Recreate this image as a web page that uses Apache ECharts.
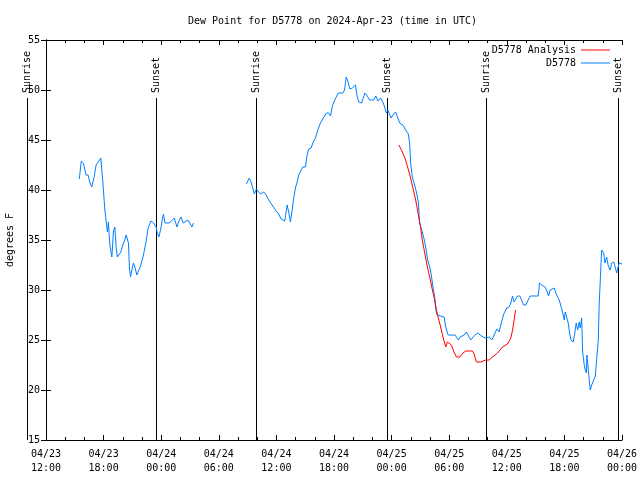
<!DOCTYPE html>
<html>
<head>
<meta charset="utf-8">
<script src="https://cdn.jsdelivr.net/npm/echarts@6/dist/echarts.min.js"></script>
<style>html,body{margin:0;padding:0;background:#fff}#c{width:640px;height:480px}</style>
</head>
<body>
<div id="c"></div>
<script>
// Hours since 2024-04-23 12:00 UTC
const obsHours = [3.47,3.68,3.89,4.17,4.38,4.56,4.77,5.01,5.22,5.71,5.92,6.13,6.29,6.40,6.50,6.65,6.86,7.02,7.17,7.30,7.44,7.62,7.80,8.00,8.21,8.35,8.48,8.59,8.69,8.80,8.90,9.11,9.29,9.46,9.63,9.88,10.15,10.40,10.64,10.93,11.20,11.48,11.58,11.76,11.97,12.14,12.24,12.39,12.84,13.36,13.49,13.64,13.81,14.06,14.30,14.50,14.79,15.03,15.20,15.37,
 18.0,
 20.87,21.18,21.36,21.53,21.71,21.91,22.09,22.33,22.68,22.93,23.20,23.55,23.90,24.24,24.49,24.87,25.01,25.12,25.28,25.46,25.64,25.81,25.98,26.16,26.33,26.58,26.75,27.03,27.20,27.37,27.62,27.83,28.07,28.31,28.59,28.94,29.22,29.46,29.64,29.81,29.98,30.23,30.44,30.92,31.10,31.27,31.44,31.65,31.90,32.07,32.24,32.42,32.59,32.87,33.05,33.22,33.47,33.71,34.15,34.36,34.57,34.85,35.14,35.27,35.45,35.62,35.93,36.14,36.42,36.84,37.18,37.46,37.74,37.88,37.98,38.16,38.40,38.61,38.79,38.92,39.20,39.41,39.55,39.76,39.97,40.10,40.31,40.49,40.59,40.73,40.87,41.46,41.64,41.88,42.61,42.96,43.13,43.55,43.80,44.07,44.24,44.49,44.66,44.94,45.22,45.53,45.81,46.16,46.44,46.68,46.96,47.20,47.45,47.72,48.00,48.24,48.42,48.60,48.76,48.94,49.12,49.36,49.54,49.74,49.98,50.22,50.43,51.27,51.41,51.62,51.79,51.97,52.14,52.35,52.52,52.94,53.11,53.29,53.46,53.64,53.81,53.98,54.09,54.26,54.40,54.54,54.68,54.92,55.10,55.23,55.38,55.55,55.65,55.80,55.90,56.07,56.17,56.28,56.35,56.49,56.69,56.84,57.05,57.22,57.42,57.53,57.63,57.74,57.88,58.09,58.23,58.40,58.55,58.75,58.93,59.14,59.30,59.45,59.56,59.72,59.90,60.00];
const obsDew = [41.1,42.9,42.7,41.5,41.5,40.8,40.3,41.3,42.5,43.2,40.8,38.0,36.7,35.8,36.8,34.5,33.3,35.8,36.3,34.3,33.3,33.5,33.8,34.5,35.0,35.5,35.7,34.7,32.2,31.3,31.8,32.7,32.2,31.5,31.7,32.5,33.5,34.7,36.2,36.9,36.7,36.3,35.7,35.3,36.2,37.2,37.6,36.7,36.7,37.2,37.2,36.3,36.8,37.3,36.7,36.7,37.0,36.6,36.3,36.7,
 null,
 40.6,41.2,40.8,40.2,39.6,40.1,39.9,39.6,39.8,39.5,39.0,38.5,38.0,37.6,37.1,36.9,36.8,38.5,37.8,36.8,38.0,39.2,40.2,40.8,41.5,42.0,42.3,42.3,43.5,44.1,44.2,44.8,45.2,46.0,46.7,47.3,47.7,47.7,47.4,48.3,48.8,49.3,49.7,49.7,50.0,51.3,50.9,50.1,50.2,50.3,50.5,49.3,48.8,48.7,49.2,49.7,49.4,49.0,49.0,49.4,48.9,49.2,48.7,48.3,47.7,48.0,47.2,47.5,47.8,46.7,46.5,46.0,45.6,44.7,42.7,41.3,40.5,39.7,38.7,36.7,35.8,35.0,34.3,33.0,32.3,31.7,30.3,29.3,28.2,27.5,27.3,27.3,26.3,25.5,25.5,25.0,25.3,25.5,25.8,25.3,25.0,25.3,25.3,25.7,25.5,25.3,25.2,25.3,25.0,25.5,26.1,25.8,26.8,27.7,28.2,28.3,28.7,29.4,28.8,29.0,29.4,29.4,29.0,28.5,28.5,29.0,29.4,29.4,30.7,30.5,30.7,30.3,30.0,29.4,30.0,30.2,29.7,29.3,29.0,28.4,27.8,27.0,27.8,28.0,26.7,25.7,25.0,24.8,25.8,26.7,26.0,26.8,26.2,27.2,23.8,22.5,22.0,21.7,23.5,22.0,20.0,20.5,21.0,21.4,21.5,25.0,28.7,31.0,34.0,33.7,32.7,33.3,32.5,32.0,32.7,32.8,32.7,31.7,32.2,32.7,32.8,32.6];

const anaHours = [36.76,37.12,37.39,37.70,37.98,38.22,38.51,38.79,39.03,39.20,39.45,39.73,39.97,40.25,40.49,40.67,40.87,41.11,41.35,41.64,41.81,41.98,42.23,42.50,42.75,43.10,43.44,43.72,44.42,44.59,44.84,45.29,45.81,46.16,46.51,47.03,47.55,48.07,48.42,48.60,48.76,48.91];
const anaDew = [44.5,43.8,43.2,42.2,41.2,40.2,39.0,37.5,36.2,35.0,33.7,32.3,31.3,30.0,29.0,28.0,27.2,26.3,25.3,24.3,24.8,25.0,24.5,23.8,23.3,23.3,23.7,23.9,23.9,23.6,22.8,22.8,23.0,23.0,23.3,23.7,24.3,24.6,25.2,26.0,27.0,28.0];

const eventNames = ['Sunrise','Sunset','Sunrise','Sunset','Sunrise','Sunset'];
const eventHours = [-2.01,11.51,21.91,35.48,45.86,59.55];

const xTickLabels = ['04/23\n12:00','04/23\n18:00','04/24\n00:00','04/24\n06:00','04/24\n12:00','04/24\n18:00','04/25\n00:00','04/25\n06:00','04/25\n12:00','04/25\n18:00','04/26\n00:00'];

const FONT = '"DejaVu Sans Mono", "Liberation Mono", monospace';
const chart = echarts.init(document.getElementById('c'), null, {renderer: 'canvas'});
const axisLineStyle = {show: true, lineStyle: {color: '#000', width: 1}};

chart.setOption({
  animation: false,
  backgroundColor: '#fff',
  title: {
    text: 'Dew Point for D5778 on 2024-Apr-23 (time in UTC)',
    left: 188, top: 16, padding: 0,
    textStyle: {fontFamily: FONT, fontSize: 10, fontWeight: 'normal', color: '#000'}
  },
  legend: {
    data: ['D5778 Analysis', 'D5778'],
    orient: 'vertical', align: 'right',
    right: 30, top: 45, padding: 0,
    icon: 'rect',
    itemWidth: 29, itemHeight: 1, itemGap: 3,
    textStyle: {fontFamily: FONT, fontSize: 10, color: '#000'}
  },
  grid: {left: 46, right: 18, top: 40, bottom: 40, outerBoundsMode: 'none', containLabel: false},
  xAxis: [{
    type: 'value', min: 0, max: 60, interval: 6, position: 'bottom',
    axisLine: axisLineStyle,
    axisTick: {show: true, inside: true, length: 5, lineStyle: {color: '#000'}},
    minorTick: {show: true, splitNumber: 3, length: 3, lineStyle: {color: '#000'}},
    splitLine: {show: false},
    axisLabel: {
      margin: 7, lineHeight: 14, fontFamily: FONT, fontSize: 10, color: '#000',
      formatter: v => xTickLabels[Math.round(v / 6)] || ''
    }
  }, {
    type: 'value', min: 0, max: 60, interval: 6, position: 'top',
    axisLine: axisLineStyle,
    axisTick: {show: true, inside: true, length: 5, lineStyle: {color: '#000'}},
    minorTick: {show: true, splitNumber: 3, length: 3, lineStyle: {color: '#000'}},
    splitLine: {show: false},
    axisLabel: {show: false}
  }],
  yAxis: [{
    type: 'value', min: 15, max: 55, interval: 5, position: 'left',
    name: 'degrees F', nameLocation: 'middle', nameGap: 31, nameRotate: 90,
    nameTextStyle: {fontFamily: FONT, fontSize: 10, color: '#000'},
    axisLine: axisLineStyle,
    axisTick: {show: true, inside: true, length: 5, lineStyle: {color: '#000'}},
    splitLine: {show: false},
    axisLabel: {margin: 6, fontFamily: FONT, fontSize: 10, color: '#000'}
  }, {
    type: 'value', min: 15, max: 55, interval: 5, position: 'right',
    axisLine: axisLineStyle,
    axisTick: {show: true, inside: true, length: 5, lineStyle: {color: '#000'}},
    splitLine: {show: false},
    axisLabel: {show: false}
  }],
  series: [{
    name: 'D5778 Analysis', type: 'line',
    data: anaHours.map((h, i) => [h, anaDew[i]]),
    symbol: 'none', showSymbol: false,
    lineStyle: {color: '#ff0000', width: 1},
    itemStyle: {color: '#ff0000'},
    z: 3
  }, {
    name: 'D5778', type: 'line',
    data: obsHours.map((h, i) => [h, obsDew[i]]),
    symbol: 'none', showSymbol: false, connectNulls: false,
    lineStyle: {color: '#0080ff', width: 1},
    itemStyle: {color: '#0080ff'},
    z: 2
  }, {
    name: 'events', type: 'custom', clip: false, silent: true, z: 1,
    data: eventHours.map(h => [h, 15]),
    encode: {x: 0, y: 1},
    renderItem: function (params, api) {
      const t = api.value(0);
      const top = api.coord([t, 49.2]);
      const bot = api.coord([t, 15]);
      const x = Math.round(top[0]) + 0.5;
      const yTop = Math.round(top[1]);
      return {
        type: 'group',
        children: [{
          type: 'line',
          shape: {x1: x, y1: yTop, x2: x, y2: bot[1]},
          style: {stroke: '#000', lineWidth: 1}
        }, {
          type: 'text',
          x: x, y: yTop - 5, rotation: Math.PI / 2,
          style: {
            text: eventNames[params.dataIndex], fill: '#000',
            font: '10px ' + FONT, textAlign: 'left', textVerticalAlign: 'middle'
          }
        }]
      };
    }
  }]
});
</script>
</body>
</html>
